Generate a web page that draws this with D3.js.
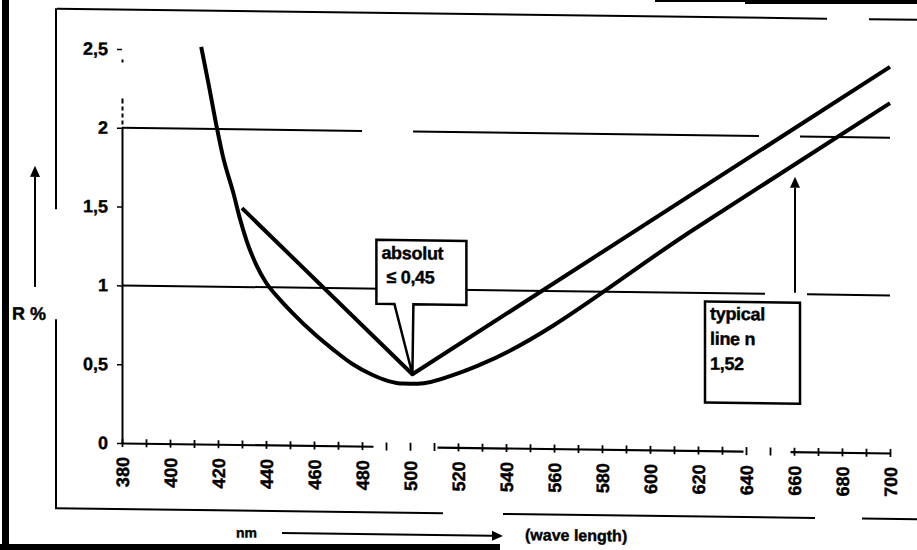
<!DOCTYPE html>
<html>
<head>
<meta charset="utf-8">
<script src="https://cdn.jsdelivr.net/npm/d3@7"></script>
<style>
  body { margin: 0; background: #fff; }
  svg { display: block; }
  text { font-family: "Liberation Sans", Arial, sans-serif; font-weight: bold; fill: #000; stroke: #000; stroke-width: 0.4px; }
</style>
</head>
<body>
<div id="chart"></div>
<script>
// reflectance R (%) against wave length (nm)
const curveTypical = [
    [413, 2.52], [416, 2.29], [419.5, 2.01], [422, 1.83], [426.5, 1.59], [429, 1.44],
    [432, 1.29], [436, 1.14], [440, 1.03], [446, 0.92], [451, 0.84], [460, 0.71],
    [468, 0.61], [476, 0.52], [484, 0.455], [491, 0.415], [497, 0.40], [503, 0.40],
    [520, 0.47], [529, 0.525], [620, 1.42], [700, 2.22]
];
const curveAbsolut = [[430, 1.5], [501, 0.46], [700, 2.45]];

const xTicks = [380, 400, 420, 440, 460, 480, 500, 520, 540, 560, 580, 600, 620, 640, 660, 680, 700];
const yTicks = [0, 0.5, 1, 1.5, 2, 2.5];
const gridValues = [1, 2];

const labelAbsolut = ["absolut", "\u2264 0,45"];
const labelTypical = ["typical", "line n", "1,52"];

var svgWidth = 917, svgHeight = 550;

// the scan is sheared a little: horizontal lines drop ~10px towards the right
var shear = 0.013;
var shearDeg = Math.atan(shear) * 180 / Math.PI;

var x = d3.scaleLinear().domain([380, 700]).range([122, 890]);
var y = d3.scaleLinear().domain([0, 2.5]).range([443, 49]);

var svg = d3.select("#chart").append("svg")
    .attr("width", svgWidth)
    .attr("height", svgHeight);

// outer dark scan borders
svg.append("rect").attr("x", 2).attr("y", 0).attr("width", 7).attr("height", svgHeight).attr("fill", "#000");
svg.append("rect").attr("x", 0).attr("y", 544).attr("width", 500).attr("height", 6).attr("fill", "#000");
svg.append("rect").attr("x", 745).attr("y", 0).attr("width", 172).attr("height", 4).attr("fill", "#000");
svg.append("rect").attr("x", 655).attr("y", 0).attr("width", 90).attr("height", 2).attr("fill", "#000");

var g = svg.append("g")
    .attr("transform", "translate(0," + (-122 * shear) + ") skewY(" + shearDeg + ")");

// inner frame (with the gaps of the scan)
var frameSegs = [
    [57, 9.5, 827, 9.5], [869, 9.5, 917, 9.5],
    [56, 9, 56, 210], [56, 320, 56, 509],
    [55, 509, 443, 509], [503, 509, 815, 509], [862, 509, 917, 509]
];
g.selectAll(".frame")
    .data(frameSegs)
    .enter().append("line")
    .attr("class", "frame")
    .attr("x1", d => d[0]).attr("y1", d => d[1])
    .attr("x2", d => d[2]).attr("y2", d => d[3])
    .attr("stroke", "#000")
    .attr("stroke-width", 2);

// gridlines
var gridDash = { 1: "643,42,83", 2: "240,51,346,41,90" };
g.selectAll(".grid")
    .data(gridValues)
    .enter().append("line")
    .attr("class", "grid")
    .attr("x1", x(380)).attr("x2", x(700))
    .attr("y1", d => y(d)).attr("y2", d => y(d))
    .attr("stroke", "#000")
    .attr("stroke-width", 2)
    .attr("stroke-dasharray", d => gridDash[d]);

// y axis
var yAxis = d3.axisLeft(y)
    .tickValues(yTicks)
    .tickSize(5)
    .tickSizeOuter(0)
    .tickPadding(9)
    .tickFormat(d => String(d).replace(".", ","));

var gY = g.append("g")
    .attr("transform", "translate(" + x(380) + ",0)")
    .call(yAxis)
    .attr("font-size", 18);
gY.select(".domain")
    .attr("stroke-width", 2)
    .attr("stroke-dasharray", "316,3,4,3,4,3,4,3,5,36,3,15,3,100");
gY.selectAll(".tick line").attr("stroke-width", 1.5);

// x axis
var xAxis = d3.axisBottom(x)
    .tickValues(xTicks)
    .tickSize(0)
    .tickSizeOuter(0)
    .tickPadding(0);

var gX = g.append("g")
    .attr("transform", "translate(0," + y(0) + ")")
    .call(xAxis)
    .attr("font-size", 18);
gX.select(".domain")
    .attr("stroke-width", 2.2)
    .attr("stroke-dasharray", "251,64,306,47,100");
gX.selectAll("text")
    .attr("transform", "rotate(-90)")
    .attr("x", -14)
    .attr("y", 0)
    .attr("dy", "0.35em")
    .attr("text-anchor", "end");

// minor ticks crossing the x axis every 10 nm
var gMinor = g.append("g")
    .attr("transform", "translate(0," + y(0) + ")")
    .call(d3.axisBottom(x).tickValues(d3.range(380, 701, 10)).tickSize(4).tickFormat(""));
gMinor.select(".domain").remove();
gMinor.selectAll(".tick line")
    .attr("y1", -4)
    .attr("stroke-width", 1.8);

// curves
var line = d3.line()
    .x(d => x(d[0]))
    .y(d => y(d[1]));

g.append("path")
    .datum(curveTypical)
    .attr("fill", "none")
    .attr("stroke", "#000")
    .attr("stroke-width", 4)
    .attr("stroke-linejoin", "round")
    .attr("d", line.curve(d3.curveMonotoneX));

g.append("path")
    .datum(curveAbsolut)
    .attr("fill", "none")
    .attr("stroke", "#000")
    .attr("stroke-width", 4)
    .attr("stroke-linejoin", "round")
    .attr("d", line.curve(d3.curveLinear));

// callout pointing at the minimum of the absolut curve
var ax = x(curveAbsolut[1][0]), ay = y(curveAbsolut[1][1]);
var callout = [
    [ax - 36, ay - 134], [ax + 54, ay - 134], [ax + 54, ay - 70], [ax + 1, ay - 70],
    [ax, ay], [ax - 18, ay - 70], [ax - 36, ay - 70]
];
g.append("path")
    .attr("d", "M" + callout.join("L") + "Z")
    .attr("fill", "#fff")
    .attr("stroke", "#000")
    .attr("stroke-width", 2.5)
    .attr("stroke-linejoin", "miter");

g.selectAll(".lab-abs")
    .data(labelAbsolut)
    .enter().append("text")
    .attr("class", "lab-abs")
    .attr("x", (d, i) => ax - 31 + i * 5)
    .attr("y", (d, i) => ay - 115 + i * 24)
    .attr("font-size", 18)
    .attr("letter-spacing", -0.3)
    .text(d => d);

// "typical" box with arrow up to the curve
g.append("rect")
    .attr("x", 705).attr("y", 294)
    .attr("width", 95).attr("height", 101)
    .attr("fill", "#fff")
    .attr("stroke", "#000")
    .attr("stroke-width", 2.5);

g.selectAll(".lab-typ")
    .data(labelTypical)
    .enter().append("text")
    .attr("class", "lab-typ")
    .attr("x", 710)
    .attr("y", (d, i) => 312 + i * 25)
    .attr("font-size", 18)
    .attr("letter-spacing", -0.3)
    .text(d => d);

function arrow(x1, y1, x2, y2) {
    var a = Math.atan2(y2 - y1, x2 - x1), len = 11, w = 5;
    var bx = x2 - len * Math.cos(a), by = y2 - len * Math.sin(a);
    g.append("line")
        .attr("x1", x1).attr("y1", y1).attr("x2", bx).attr("y2", by)
        .attr("stroke", "#000").attr("stroke-width", 2);
    g.append("path")
        .attr("d", "M" + x2 + "," + y2 +
            "L" + (bx + w * Math.sin(a)) + "," + (by - w * Math.cos(a)) +
            "L" + (bx - w * Math.sin(a)) + "," + (by + w * Math.cos(a)) + "Z")
        .attr("fill", "#000");
}

arrow(795, 284, 795, 168);
arrow(35, 288, 35, 167);
arrow(282, 531, 503, 531);

// axis titles
g.append("text").attr("x", 12).attr("y", 321).attr("font-size", 18).text("R %");
g.append("text").attr("x", 236).attr("y", 536).attr("font-size", 14).text("nm");
g.append("text").attr("x", 525).attr("y", 535).attr("font-size", 16).text("(wave length)");
</script>
</body>
</html>
